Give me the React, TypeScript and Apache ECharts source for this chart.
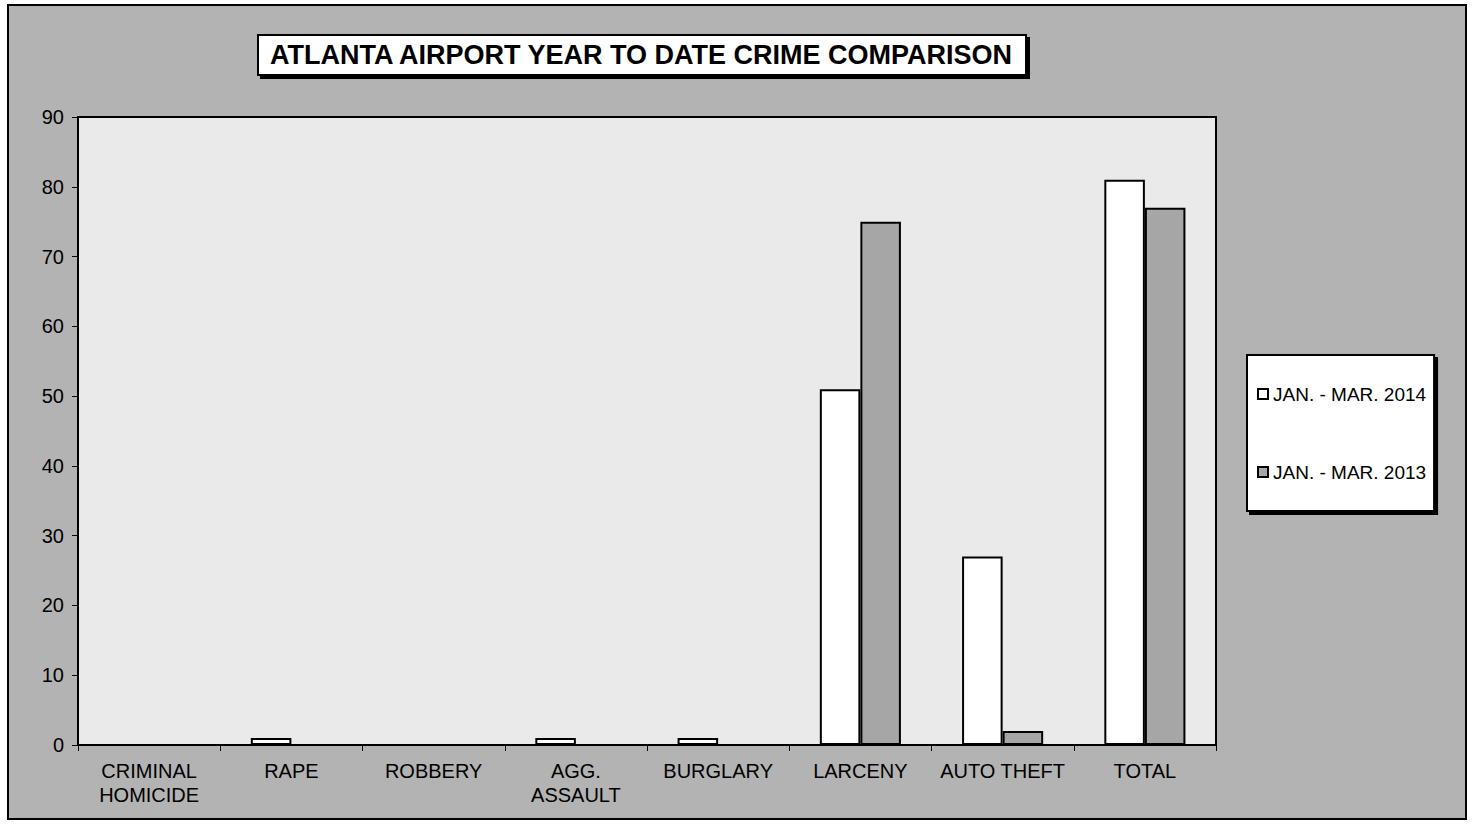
import React, { useEffect, useRef } from "react";
import * as echarts from "echarts";

const categories = [
  "CRIMINAL\nHOMICIDE",
  "RAPE",
  "ROBBERY",
  "AGG.\nASSAULT",
  "BURGLARY",
  "LARCENY",
  "AUTO THEFT",
  "TOTAL",
];
const series2014Name = "JAN. - MAR. 2014";
const series2013Name = "JAN. - MAR. 2013";
const values2014 = [0, 1, 0, 1, 1, 51, 27, 81];
const values2013 = [0, 0, 0, 0, 0, 75, 2, 77];
const titleText = "ATLANTA AIRPORT YEAR TO DATE CRIME COMPARISON";

const FONT = '"Liberation Sans", Arial, sans-serif';

export default function App() {
  const ref = useRef<HTMLDivElement>(null);
  useEffect(() => {
    if (!ref.current) return;
    const chart = echarts.init(ref.current, undefined, { renderer: "svg" });
    chart.setOption({
      animation: false,
      backgroundColor: "#ffffff",
      graphic: [
        {
          type: "rect",
          z: -100,
          shape: { x: 8, y: 5, width: 1458, height: 814 },
          style: { fill: "#b3b3b3", stroke: "#000", lineWidth: 2 },
          silent: true,
        },
      ],
      title: {
        text: titleText,
        left: 258,
        top: 35,
        padding: [5, 12, 5, 12],
        backgroundColor: "#ffffff",
        borderColor: "#000",
        borderWidth: 2,
        shadowColor: "#000",
        shadowOffsetX: 3,
        shadowOffsetY: 3,
        shadowBlur: 0,
        textStyle: {
          fontFamily: FONT,
          fontSize: 27,
          fontWeight: "bold",
          color: "#000",
          lineHeight: 30,
        },
      },
      legend: {
        orient: "vertical",
        left: 1247,
        top: 355,
        padding: [29, 8, 29, 10],
        itemGap: 58,
        itemWidth: 10,
        itemHeight: 10,
        backgroundColor: "#ffffff",
        borderColor: "#000",
        borderWidth: 2,
        shadowColor: "#000",
        shadowOffsetX: 3,
        shadowOffsetY: 3,
        shadowBlur: 0,
        icon: "rect",
        textStyle: { fontFamily: FONT, fontSize: 19, color: "#000", lineHeight: 20 },
        data: [series2014Name, series2013Name],
      },
      grid: {
        left: 78,
        top: 117,
        width: 1138,
        height: 628,
        show: true,
        backgroundColor: "#eaeaea",
        borderColor: "#000",
        borderWidth: 2,
      },
      xAxis: {
        type: "category",
        data: categories,
        axisLine: { lineStyle: { color: "#000", width: 2 } },
        axisTick: { show: true, length: 6, lineStyle: { color: "#000", width: 1 } },
        axisLabel: {
          interval: 0,
          margin: 14,
          fontFamily: FONT,
          fontSize: 20,
          lineHeight: 24,
          color: "#000",
        },
        splitLine: { show: false },
      },
      yAxis: {
        type: "value",
        min: 0,
        max: 90,
        interval: 10,
        axisLine: { show: true, lineStyle: { color: "#000", width: 2 } },
        axisTick: { show: true, length: 6, lineStyle: { color: "#000", width: 1 } },
        axisLabel: { margin: 14, fontFamily: FONT, fontSize: 20, color: "#000" },
        splitLine: { show: false },
      },
      series: [
        {
          name: series2014Name,
          type: "bar",
          data: values2014,
          barGap: "0%",
          barCategoryGap: "43%",
          itemStyle: { color: "#ffffff", borderColor: "#000", borderWidth: 2 },
        },
        {
          name: series2013Name,
          type: "bar",
          data: values2013,
          barGap: "0%",
          barCategoryGap: "43%",
          itemStyle: { color: "#a6a6a6", borderColor: "#000", borderWidth: 2 },
        },
      ],
    });
    return () => chart.dispose();
  }, []);
  return (
    <div
      ref={ref}
      style={{ position: "absolute", left: 0, top: 0, width: 1475, height: 827 }}
    />
  );
}
